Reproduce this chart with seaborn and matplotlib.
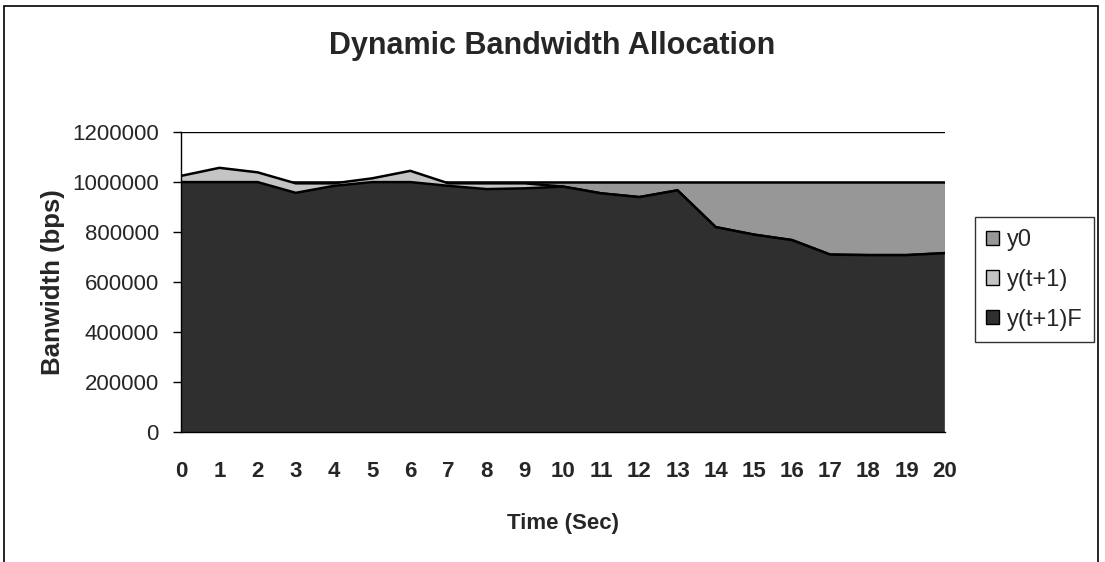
import matplotlib
matplotlib.use("Agg")
import matplotlib.pyplot as plt
import seaborn as sns
import pandas as pd
from matplotlib.patches import Patch, Rectangle

# Link capacity, predicted demand and final allocation per second
time_sec = [0, 1, 2, 3, 4, 5, 6, 7, 8, 9, 10, 11, 12, 13, 14, 15, 16, 17, 18, 19, 20]
y0 = [1000000, 1000000, 1000000, 1000000, 1000000, 1000000, 1000000,
      1000000, 1000000, 1000000, 1000000, 1000000, 1000000, 1000000,
      1000000, 1000000, 1000000, 1000000, 1000000, 1000000, 1000000]
y_next = [1025000, 1057000, 1039000, 995000, 995000, 1015000, 1045000,
          995000, 995000, 995000, 982000, 955000, 940000, 967000,
          820000, 790000, 768000, 710000, 708000, 708000, 716000]
y_next_f = [1000000, 1000000, 1000000, 957000, 985000, 1000000, 1000000,
            985000, 972000, 975000, 982000, 955000, 940000, 967000,
            820000, 790000, 768000, 710000, 708000, 708000, 716000]

series_names = ["y0", "y(t+1)", "y(t+1)F"]
series_values = [y0, y_next, y_next_f]
series_colors = ["#979797", "#c4c4c4", "#2f2f2f"]
y_ticks = [0, 200000, 400000, 600000, 800000, 1000000, 1200000]

df = pd.DataFrame({"time": time_sec, "y0": y0, "y(t+1)": y_next, "y(t+1)F": y_next_f})

sns.set_theme(style="white")
regular = ["Liberation Sans", "DejaVu Sans"]
plt.rcParams["font.family"] = regular

fig = plt.figure(figsize=(11.05, 5.62), dpi=100)
ax = fig.add_axes([0.164, 0.231, 0.691, 0.534])

# horizontal gridlines sit behind the areas
for t in y_ticks:
    ax.axhline(t, color="black", lw=1.0, zorder=0)

# overlapping (unstacked) areas, later series in front
for i, (name, color) in enumerate(zip(series_names, series_colors)):
    ax.fill_between(df["time"], 0, df[name], facecolor=color, edgecolor="none",
                    zorder=1 + 2 * i)
    sns.lineplot(data=df, x="time", y=name, ax=ax, color="black", lw=1.8,
                 zorder=2 + 2 * i, legend=False)

ax.set_xlim(0, 20)
ax.set_ylim(0, 1200000)
ax.set_xticks(time_sec)
ax.set_xticklabels([str(t) for t in time_sec], fontweight="bold", fontsize=16)
ax.set_yticks(y_ticks)
ax.set_yticklabels([str(t) for t in y_ticks], fontsize=16)
ax.tick_params(axis="x", length=0, pad=21)
ax.tick_params(axis="y", length=6, width=1, direction="out", left=True, pad=10,
               color="black")

for side in ["top", "right"]:
    ax.spines[side].set_visible(False)
for side in ["left", "bottom"]:
    ax.spines[side].set_color("black")
    ax.spines[side].set_linewidth(1.0)
    ax.spines[side].set_zorder(10)

ax.set_xlabel("Time (Sec)", fontweight="bold", fontsize=16, labelpad=22)
ax.set_ylabel("Banwidth (bps)", fontweight="bold", fontsize=18.5, labelpad=5)

fig.text(0.5, 0.918, "Dynamic Bandwidth Allocation", ha="center", va="center",
         fontweight="bold", fontsize=22)

handles = [Patch(facecolor=c, edgecolor="black", lw=1.0) for c in series_colors]
leg = fig.legend(handles, series_names, loc="center left",
                 bbox_to_anchor=(0.882, 0.502), frameon=True, fancybox=False,
                 edgecolor="black", fontsize=17, handlelength=0.55,
                 handleheight=0.55, handletextpad=0.3, labelspacing=0.75,
                 borderpad=0.5, borderaxespad=0)
leg.get_frame().set_linewidth(1.0)

# outer chart frame
fig.patches.append(Rectangle((0.004, -0.05), 0.99, 1.04, transform=fig.transFigure,
                             fill=False, edgecolor="black", lw=1.2))

fig.savefig("out.png", dpi=100)
